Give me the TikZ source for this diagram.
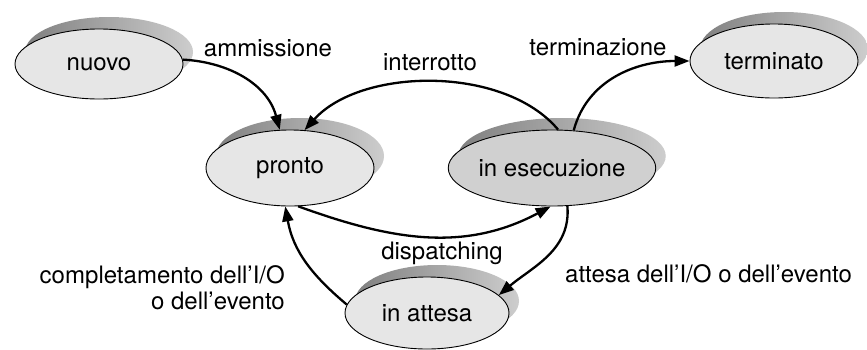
\documentclass[tikz,border=0pt]{standalone}
\usepackage{fontspec}
\setmainfont{TeX Gyre Heros}
\usetikzlibrary{shapes.geometric,arrows.meta}
\definecolor{statefill}{RGB}{230,230,230}
\definecolor{runfill}{RGB}{208,208,208}
\definecolor{shadowdark}{RGB}{128,128,128}
\definecolor{shadowlight}{RGB}{205,205,205}
\begin{document}
\begin{tikzpicture}[x=1pt,y=-1pt,
  font=\fontsize{24}{26.5}\selectfont,
  state/.style={ellipse, draw=black, line width=0.9pt, fill=statefill,
    inner sep=0pt,
    preaction={draw=none, left color=shadowdark, right color=shadowlight,
      transform canvas={shift={(10pt,12pt)}}}},
  trans/.style={line width=2.3pt, -{Triangle[length=15pt,width=11pt]}},
  lbl/.style={inner sep=0pt}]
\useasboundingbox (0,0) rectangle (867,349);

% states
\node[state, minimum width=168pt, minimum height=70pt] (nuovo) at (99,64) {nuovo};
\node[state, minimum width=168pt, minimum height=74pt] (terminato) at (774,61) {terminato};
\node[state, minimum width=168pt, minimum height=76pt] (pronto) at (290,168) {pronto};
\node[state, fill=runfill, minimum width=160pt, minimum height=76pt] (esec) at (552,168) {in esecuzione};
\node[state, minimum width=164pt, minimum height=72pt] (attesa) at (427,313) {in attesa};

% transitions
\draw[trans] (nuovo.3) to[out=-3,in=105] (pronto.105);
\draw[trans] (esec.81) to[out=130,in=48,looseness=0.85] (pronto.69);
\draw[trans] (esec.60) to[out=75,in=180] (terminato.west);
\draw[trans] (pronto.-78) to[out=-20,in=-152] (esec.-92);
\draw[trans] (esec.-68) to[out=-85,in=40] (attesa.14);
\draw[trans] (attesa.174) to[out=140,in=-80] (pronto.-97);

% transition labels
\node[lbl, anchor=base] (lamm) at (268,56) {ammissione};
\node[lbl, anchor=base] (lint) at (430,70) {interrotto};
\node[lbl, anchor=base] (lter) at (598,55) {terminazione};
\node[lbl, anchor=base] (ldis) at (442,259) {dispatching};
\node[lbl, anchor=base west] (latt) at (565,282) {attesa dell’I/O o dell’evento};
\node[lbl, anchor=north east, align=right] (lcom) at (285,265)
  {completamento dell’I/O\\o dell’evento};
\end{tikzpicture}
\end{document}
